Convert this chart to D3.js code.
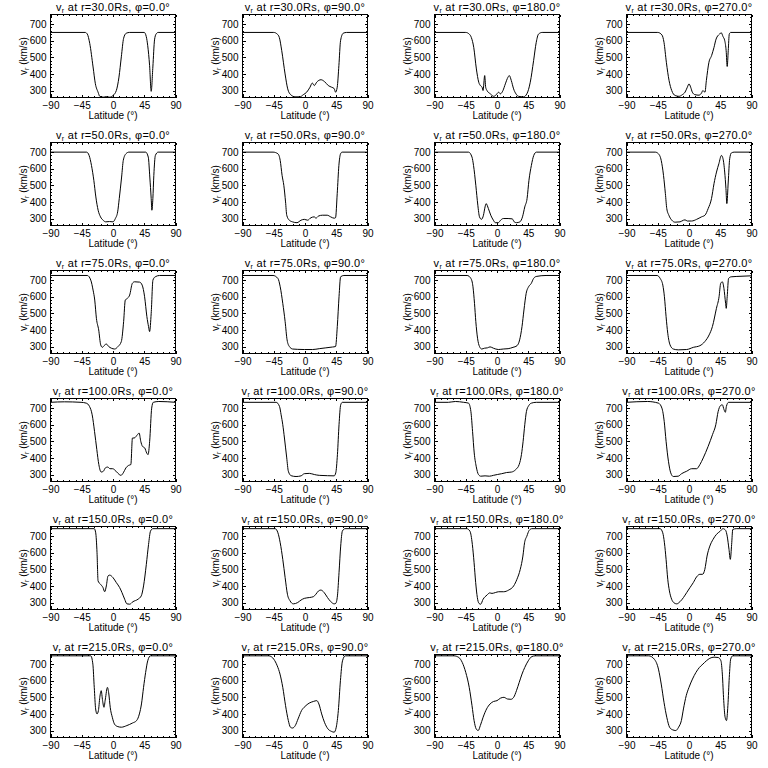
<!DOCTYPE html>
<html>
<head>
<meta charset="utf-8">
<script src="https://cdn.jsdelivr.net/npm/d3@7"></script>
<style>
  html, body { margin: 0; padding: 0; background: #fff; }
  svg { display: block; }
  text { font-family: "Liberation Sans", Arial, sans-serif; fill: #000; }
</style>
</head>
<body>
<svg id="chart" width="768" height="768"></svg>
<script>
// ---- data ----
const radii = [30, 50, 75, 100, 150, 215];
const phis = [0, 90, 180, 270];
const latTicks = [-90, -45, 0, 45, 90];
const latMinorTicks = [-81, -72, -63, -54, -36, -27, -18, -9, 9, 18, 27, 36, 54, 63, 72, 81];
const vTicks = [300, 400, 500, 600, 700];
const vMinorTicks = [260, 280, 320, 340, 360, 380, 420, 440, 460, 480, 520, 540, 560, 580, 620, 640, 660, 680, 720, 740];

// [latitude (deg), v_r (km/s)]
const r30_p0 = [[-90,650],[-40,650],[-37,640],[-33.5,584],[-28.7,442],[-25.4,341],[-21.5,290],[-19,265],[-14,260],[-10,263],[-5,260],[0,270],[4.8,300],[8.6,381],[12,503],[15.3,615],[19,645],[24,650],[45,650],[47.9,625],[50,570],[52.7,450],[55,295],[57.4,442],[59.8,605],[62,640],[65,650],[90,650]];
const r30_p90 = [[-90,650],[-45,650],[-40,640],[-37,620],[-33.5,540],[-28.7,400],[-24.9,310],[-20.6,275],[-14.4,262],[-7.2,262],[-2.4,275],[2.4,290],[7.2,320],[10.5,345],[13.4,330],[16.8,350],[23,365],[27.8,355],[33.5,330],[38.3,320],[42,312],[44,290],[46.4,320],[48.8,450],[51.2,600],[55,645],[60,650],[90,650]];
const r30_p180 = [[-90,650],[-45,650],[-40,640],[-37,620],[-33.5,560],[-29.7,430],[-26.3,350],[-23.9,330],[-21.5,320],[-20.1,300],[-17.7,390],[-16.3,320],[-14.4,300],[-9.6,280],[-4.8,265],[0,280],[2.4,290],[4.8,280],[8.6,300],[12,340],[15.8,380],[17.7,390],[20.6,360],[23.9,310],[27.3,280],[31,265],[38.3,262],[43,280],[47.9,350],[52.7,480],[56.5,590],[59.8,640],[65,650],[90,650]];
const r30_p270 = [[-90,650],[-45,650],[-39,635],[-36,590],[-32.6,470],[-28.7,360],[-24.9,300],[-20,270],[-14.4,265],[-9.6,275],[-5.7,290],[-2.4,320],[0,340],[2.4,320],[4.8,290],[8.6,275],[14.4,272],[18,285],[20,300],[23,290],[25,360],[28.7,470],[32.5,510],[36,560],[39,610],[44,640],[46.4,648],[49,625],[51.5,600],[53.5,540],[55,445],[56.5,540],[58,640],[60,650],[90,650]];

const r50_p0 = [[-90,700],[-38,700],[-34.4,680],[-31,620],[-27.6,530],[-24.7,430],[-21.4,350],[-18,310],[-14.3,290],[-10.5,280],[-5,282],[0,280],[3.4,300],[6.7,340],[9,420],[12.4,550],[14.8,650],[18.6,690],[23,700],[47,700],[50.8,670],[53,550],[55,420],[56,350],[57.4,420],[58.8,560],[61,680],[65,700],[90,700]];
const r50_p90 = [[-90,700],[-46,700],[-39,690],[-35.7,650],[-33,560],[-30.5,500],[-28,400],[-26.3,320],[-22.6,290],[-18,280],[-11.5,275],[-5.7,290],[-1,295],[3.8,290],[8.6,305],[13.4,310],[15.7,302],[19.5,315],[25,320],[32,320],[37,310],[42,302],[44,305],[46.4,450],[48.8,620],[51.2,690],[53.5,700],[90,700]];
const r50_p180 = [[-90,700],[-41,700],[-36,670],[-33.8,620],[-30.5,500],[-27.6,380],[-25.2,310],[-22.4,295],[-19.5,320],[-17.2,370],[-15.7,390],[-12.4,360],[-9,320],[-5.2,290],[-2.4,275],[1.9,275],[5.2,290],[9,300],[16,300],[22,298],[24.8,280],[28,275],[33,280],[36.7,310],[40,370],[43.3,420],[46,530],[49.5,620],[52.9,680],[56.7,700],[90,700]];
const r50_p270 = [[-90,700],[-48.6,700],[-44,690],[-40,650],[-36.7,560],[-34,450],[-32,360],[-29,320],[-24.8,290],[-20,278],[-12.9,280],[-8,290],[-5.7,292],[-2.4,285],[3.8,285],[11,295],[18,310],[23,320],[27.6,360],[32.4,420],[36,510],[39.6,580],[43,630],[46.7,680],[49,660],[51.4,580],[53.2,480],[54.5,390],[56.5,520],[58.6,660],[61,695],[65,700],[90,700]];

const r75_p0 = [[-90,728],[-37,728],[-32,700],[-28.7,640],[-26.3,580],[-23.9,470],[-20.6,400],[-17.7,310],[-15.3,295],[-12.9,305],[-9.6,315],[-6.2,300],[-2.4,290],[2.4,285],[7.2,300],[12,330],[15.3,450],[17.7,580],[20.6,590],[24,610],[27.8,680],[31,690],[38.3,688],[42,670],[45.5,600],[48.8,480],[51.2,420],[52.7,390],[55,500],[57.5,700],[60.8,720],[67,728],[90,728]];
const r75_p90 = [[-90,728],[-46,728],[-39,710],[-35.7,660],[-32,560],[-28.6,450],[-25.8,340],[-22.5,300],[-17.8,285],[-10.5,283],[-1,282],[11,282],[20.5,287],[30,292],[39.5,297],[44,300],[46.5,420],[49,600],[51.3,720],[56,728],[90,728]];
const r75_p180 = [[-90,728],[-43,728],[-37.6,710],[-34.6,660],[-32.4,560],[-30.5,450],[-28,350],[-25.2,300],[-22,285],[-18,290],[-13.8,292],[-10,298],[-5.2,290],[1.9,282],[9,285],[16,287],[23,295],[28.8,305],[32.6,340],[36,420],[38.8,520],[42,620],[45.5,660],[49.3,680],[52.7,710],[56.4,722],[70.6,728],[90,728]];
const r75_p270 = [[-90,728],[-46,728],[-41.5,710],[-37.7,670],[-35.4,600],[-33,480],[-30.6,380],[-27.3,310],[-22.6,285],[-15.5,280],[-3.3,282],[6.2,295],[15.7,305],[22.8,330],[29,370],[33.7,420],[39.5,530],[43.3,600],[45.6,680],[48,690],[50.3,650],[52.7,560],[53.6,530],[55,600],[57,710],[60.7,720],[67.9,722],[90,726]];

const r100_p0 = [[-90,735],[-70,738],[-46,735],[-38.5,730],[-33.8,710],[-30,660],[-26.6,560],[-23.3,450],[-20.4,360],[-17,315],[-13.8,320],[-11,340],[-7.6,345],[-4.3,335],[-0.5,335],[4.3,320],[9,300],[11.4,295],[14.8,310],[18.6,340],[22.4,355],[25.7,360],[28,520],[30.5,520],[35.2,540],[37.6,550],[40,500],[42.4,470],[45.7,460],[48.5,430],[50.5,420],[52.8,500],[55.7,700],[58,735],[66,740],[90,735]];
const r100_p90 = [[-90,735],[-41.5,735],[-36.7,710],[-34.4,660],[-32,600],[-29.6,520],[-26.3,400],[-24,320],[-20,293],[-12.9,288],[-5.7,292],[-1,305],[6.2,307],[13.4,300],[20.5,295],[32.4,293],[42,292],[44.3,310],[46.7,420],[49,600],[51.4,720],[53.8,735],[90,735]];
const r100_p180 = [[-90,735],[-70,735],[-60,740],[-48,735],[-41,730],[-37.6,680],[-35.2,560],[-32.8,430],[-30,350],[-26.7,300],[-23.3,290],[-17.2,292],[-11,290],[-5.2,295],[0.5,300],[6.7,305],[13.8,312],[21,315],[27,330],[31.9,360],[35.2,420],[37.6,500],[40,600],[42.4,680],[45.7,715],[49.5,730],[56.6,735],[90,735]];
const r100_p270 = [[-90,735],[-60,740],[-44,730],[-39,700],[-35.7,620],[-33,500],[-29.6,380],[-26.3,310],[-22.6,288],[-15.5,290],[-10.7,305],[-3.3,320],[3.8,335],[11,335],[15.7,360],[20.5,400],[27.6,470],[33.8,540],[38.6,600],[42,680],[45.3,715],[48,720],[50.5,690],[52.4,675],[53.8,710],[57,735],[90,735]];

const r150_p0 = [[-90,745],[-27,745],[-24.9,720],[-23,600],[-21.5,430],[-18,410],[-14.4,390],[-12,365],[-9.6,400],[-7.2,460],[-4.8,465],[0,450],[4.8,420],[9.6,390],[12.9,360],[16.8,320],[20,292],[24,290],[28.7,305],[36,320],[40.7,340],[44,400],[48,530],[51.2,650],[54,730],[57.4,745],[90,745]];
const r150_p90 = [[-90,745],[-43,745],[-39,720],[-35.7,660],[-32,560],[-28.6,450],[-25.3,350],[-21.5,310],[-16.8,292],[-10.5,300],[-5.7,315],[-1,325],[6.2,330],[12,335],[15.7,350],[19.5,370],[22.8,375],[27.6,360],[32.4,330],[37.2,305],[42,292],[44.3,295],[46.7,340],[49,480],[51.4,640],[53.8,730],[57.6,745],[90,745]];
const r150_p180 = [[-90,745],[-43.6,745],[-39,730],[-35.5,650],[-33,540],[-30.7,420],[-28.3,330],[-26,295],[-23.5,290],[-20,320],[-14.4,345],[-10.5,358],[-7.2,355],[-2.4,360],[2.4,365],[9.6,365],[16.8,375],[24,400],[28.7,440],[33.5,500],[37.3,580],[39.7,660],[43,700],[46.4,735],[50.3,745],[90,745]];
const r150_p270 = [[-90,745],[-41.6,745],[-37.8,720],[-35.4,660],[-33,560],[-30.6,440],[-28.2,370],[-25,320],[-21.5,298],[-17.7,292],[-13,305],[-8,330],[-3.3,360],[1.4,390],[6.2,420],[11,455],[15.7,470],[19.5,470],[22.8,500],[26,580],[30,640],[34.6,680],[39.4,710],[45,730],[49,745],[52.7,735],[55,700],[57.6,620],[59.5,560],[61.4,650],[63,740],[68,745],[90,745]];

const r215_p0 = [[-90,750],[-32,750],[-29,700],[-27,560],[-25,430],[-23,400],[-21,420],[-19,500],[-17,540],[-15,480],[-13,440],[-11,490],[-8,560],[-6,520],[-4,440],[-1,380],[2,340],[6,325],[12,320],[20,330],[28,345],[34,360],[38,400],[41,460],[44,560],[47,650],[50,720],[54,750],[90,750]];
const r215_p90 = [[-90,750],[-52,750],[-45,730],[-40,690],[-36,640],[-32,560],[-28,450],[-24,360],[-21,320],[-18,315],[-14,330],[-10,370],[-5,420],[0,445],[6,465],[12,475],[17,480],[20,460],[24,400],[28,350],[33,310],[38,295],[42,290],[45,320],[48,420],[51,600],[54,720],[58,750],[90,750]];
const r215_p180 = [[-90,750],[-62,750],[-55,740],[-50,710],[-45,650],[-40,560],[-36,450],[-33,360],[-30,310],[-27,300],[-24,330],[-20,380],[-15,430],[-10,460],[-5,475],[0,480],[5,495],[10,500],[15,490],[20,488],[24,500],[28,540],[32,590],[36,640],[40,680],[45,720],[50,745],[55,750],[90,750]];
const r215_p270 = [[-90,750],[-58,750],[-50,730],[-44,670],[-40,580],[-36,470],[-32,380],[-28,320],[-24,305],[-19,300],[-15,320],[-11,360],[-8,430],[-4,510],[0,560],[5,610],[10,650],[15,680],[20,700],[25,720],[30,735],[36,742],[42,740],[46,720],[48,640],[50,480],[52,380],[54,360],[56,450],[58,620],[60,730],[63,750],[90,750]];

const series = [
  [r30_p0, r30_p90, r30_p180, r30_p270],
  [r50_p0, r50_p90, r50_p180, r50_p270],
  [r75_p0, r75_p90, r75_p180, r75_p270],
  [r100_p0, r100_p90, r100_p180, r100_p270],
  [r150_p0, r150_p90, r150_p180, r150_p270],
  [r215_p0, r215_p90, r215_p180, r215_p270]
];

// ---- drawing ----
const svg = d3.select("#chart");
svg.append("rect").attr("width", 768).attr("height", 768).attr("fill", "#fff");

const cellW = 192, cellH = 128;
const box = {left: 50.5, right: 175.5, top: 14.5, bottom: 97.5};

function strip(g) {
  g.select(".domain").remove();
  g.selectAll("line").attr("stroke", "#000").attr("shape-rendering", "crispEdges");
  g.selectAll("text").attr("font-size", 10).attr("fill", "#000")
    .style("font-family", '"Liberation Sans", Arial, sans-serif');
}

radii.forEach((r, ri) => {
  phis.forEach((phi, pi) => {
    const g = svg.append("g").attr("transform", `translate(${pi * cellW},${ri * cellH})`);
    const x = d3.scaleLinear().domain([-90, 90]).range([box.left, box.right]);
    const y = d3.scaleLinear().domain([258, 758]).range([box.bottom, box.top]);

    g.append("g").attr("transform", `translate(0,${box.bottom})`)
      .call(d3.axisBottom(x).tickValues(latTicks).tickSize(-2.5).tickPadding(4).tickFormat(d3.format("d")))
      .call(strip);
    g.append("g").attr("transform", `translate(0,${box.bottom})`)
      .call(d3.axisBottom(x).tickValues(latMinorTicks).tickSize(-1.3).tickFormat(""))
      .call(strip);
    g.append("g").attr("transform", `translate(0,${box.top})`)
      .call(d3.axisTop(x).tickValues(latTicks).tickSize(-2.5).tickFormat(""))
      .call(strip);
    g.append("g").attr("transform", `translate(0,${box.top})`)
      .call(d3.axisTop(x).tickValues(latMinorTicks).tickSize(-1.3).tickFormat(""))
      .call(strip);
    g.append("g").attr("transform", `translate(${box.left},0)`)
      .call(d3.axisLeft(y).tickValues(vTicks).tickSize(-3).tickPadding(4).tickFormat(d3.format("d")))
      .call(strip);
    g.append("g").attr("transform", `translate(${box.left},0)`)
      .call(d3.axisLeft(y).tickValues(vMinorTicks).tickSize(-1.5).tickFormat(""))
      .call(strip);
    g.append("g").attr("transform", `translate(${box.right},0)`)
      .call(d3.axisRight(y).tickValues(vTicks).tickSize(-3).tickFormat(""))
      .call(strip);
    g.append("g").attr("transform", `translate(${box.right},0)`)
      .call(d3.axisRight(y).tickValues(vMinorTicks).tickSize(-1.5).tickFormat(""))
      .call(strip);

    g.append("rect")
      .attr("x", box.left).attr("y", box.top)
      .attr("width", box.right - box.left).attr("height", box.bottom - box.top)
      .attr("fill", "none").attr("stroke", "#000").attr("stroke-width", 1)
      .attr("shape-rendering", "crispEdges");

    const line = d3.line().x(d => x(d[0])).y(d => y(d[1])).curve(d3.curveMonotoneX);
    g.append("path").datum(series[ri][pi])
      .attr("d", line)
      .attr("fill", "none").attr("stroke", "#000").attr("stroke-width", 1);

    const t = g.append("text").attr("x", (box.left + box.right) / 2).attr("y", 11)
      .attr("text-anchor", "middle").attr("font-size", 11).attr("letter-spacing", 0.3);
    t.append("tspan").text("v");
    t.append("tspan").attr("font-size", 7).attr("dy", 2).text("r");
    t.append("tspan").attr("dy", -2).text(` at r=${r.toFixed(1)}Rs, \u03C6=${phi.toFixed(1)}\u00B0`);

    g.append("text").attr("x", (box.left + box.right) / 2).attr("y", 119)
      .attr("text-anchor", "middle").attr("font-size", 10)
      .text("Latitude (\u00B0)");

    const yl = g.append("text")
      .attr("transform", `translate(27,${(box.top + box.bottom) / 2}) rotate(-90)`)
      .attr("text-anchor", "middle").attr("font-size", 10);
    yl.append("tspan").text("v");
    yl.append("tspan").attr("font-size", 7).attr("dy", 2).text("r");
    yl.append("tspan").attr("dy", -2).text(" (km/s)");
  });
});
</script>
</body>
</html>
